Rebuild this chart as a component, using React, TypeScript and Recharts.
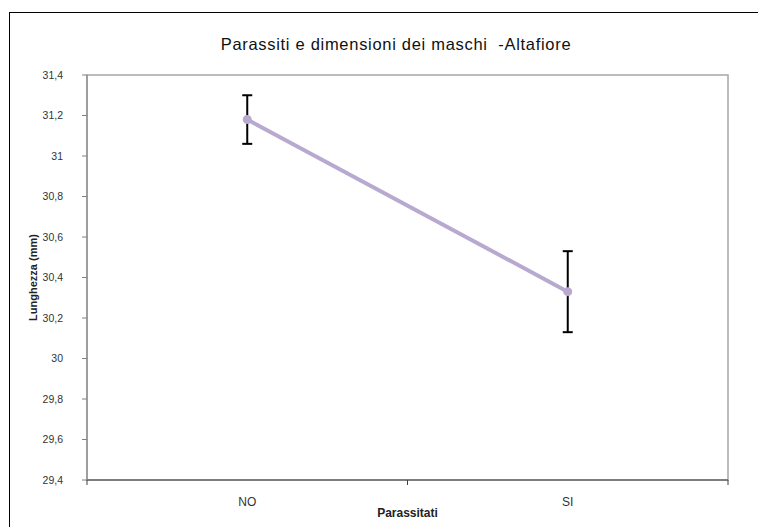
import React from 'react'
import { LineChart, Line, XAxis, YAxis, ErrorBar, ReferenceArea } from 'recharts'

// mean body length (mm) by parasite status, with error bar half-widths
const categories = ['NO', 'SI']
const means = [31.18, 30.33]
const errors = [0.12, 0.2]
const yTicks = [29.4, 29.6, 29.8, 30, 30.2, 30.4, 30.6, 30.8, 31, 31.2, 31.4]

// categories sit in the middle of each slot: slot i spans [i, i+1]
const data = categories.map((name, i) => ({ x: i + 0.5, name, mean: means[i], err: errors[i] }))
const xTicks = [0, 0.5, 1, 1.5, 2]

const FONT = '"Liberation Sans", Arial, sans-serif'

const fmt = (v: number) => String(v).replace('.', ',')

function CategoryTick(props: any) {
    const { x, y, payload } = props
    const v = payload.value as number
    if (Number.isInteger(v)) {
        return <line x1={x} y1={y} x2={x} y2={y + 5} stroke="#404040" strokeWidth={1} />
    }
    const label = categories[Math.floor(v)]
    return (
        <text x={x} y={y + 26} textAnchor="middle" fontSize={12} fill="#333" fontFamily={FONT}>
            {label}
        </text>
    )
}

export default function App() {
    return (
        <div style={{ position: 'absolute', left: 0, top: 0, width: 758, height: 527, background: '#fff', overflow: 'hidden' }}>
            {/* chart frame: only top and left edges fall inside the page */}
            <div style={{ position: 'absolute', left: 9, top: 12, width: 749, height: 515, borderTop: '1px solid #000', borderLeft: '1px solid #000', boxSizing: 'border-box' }} />
            <div style={{ position: 'absolute', left: 0, top: 35, width: 792, textAlign: 'center', fontFamily: FONT, fontSize: 16.5, letterSpacing: 0.7, color: '#111', whiteSpace: 'pre' }}>
                {'Parassiti e dimensioni dei maschi  -Altafiore'}
            </div>
            <div style={{ position: 'absolute', left: 0, top: 0 }}>
                <LineChart width={758} height={527} data={data} margin={{ top: 75, right: 30, left: 9, bottom: 0 }}>
                    <ReferenceArea x1={0} x2={2} y1={29.4} y2={31.4} fill="none" stroke="#a6a6a6" strokeWidth={1.5} ifOverflow="visible" />
                    <XAxis
                        type="number"
                        dataKey="x"
                        domain={[0, 2]}
                        ticks={xTicks}
                        interval={0}
                        height={47}
                        stroke="#404040"
                        tickLine={false}
                        tickSize={0}
                        tickMargin={0}
                        tick={<CategoryTick />}
                        label={{
                            content: (p: any) => (
                                <text x={p.viewBox.x + p.viewBox.width / 2} y={p.viewBox.y + 37} textAnchor="middle" fontSize={12} fontWeight="bold" fill="#222" fontFamily={FONT}>
                                    Parassitati
                                </text>
                            ),
                        }}
                    />
                    <YAxis
                        type="number"
                        domain={[29.4, 31.4]}
                        ticks={yTicks}
                        interval={0}
                        width={78}
                        stroke="#808080"
                        tickSize={5}
                        tickMargin={19}
                        tickFormatter={fmt}
                        tick={{ fontSize: 10.5, fill: '#333', fontFamily: FONT }}
                        label={{
                            content: (p: any) => (
                                <text
                                    x={p.viewBox.x + 25}
                                    y={p.viewBox.y + p.viewBox.height / 2}
                                    transform={`rotate(-90 ${p.viewBox.x + 25} ${p.viewBox.y + p.viewBox.height / 2})`}
                                    textAnchor="middle"
                                    dominantBaseline="middle"
                                    fontSize={11}
                                    fontWeight="bold"
                                    fill="#222"
                                    fontFamily={FONT}
                                >
                                    Lunghezza (mm)
                                </text>
                            ),
                        }}
                    />
                    <Line
                        type="linear"
                        dataKey="mean"
                        stroke="#b7a9cf"
                        strokeWidth={4}
                        dot={{ r: 2.5, fill: '#b7a9cf', stroke: '#b7a9cf' }}
                        isAnimationActive={false}
                    >
                        <ErrorBar dataKey="err" direction="y" width={5} stroke="#000" strokeWidth={2} isAnimationActive={false} />
                    </Line>
                </LineChart>
            </div>
        </div>
    )
}
